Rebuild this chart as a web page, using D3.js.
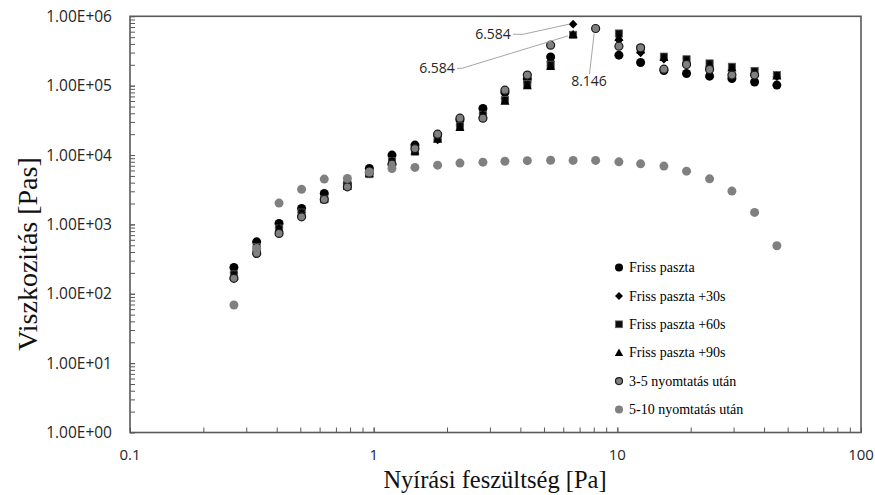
<!DOCTYPE html>
<html>
<head>
<meta charset="utf-8">
<script src="https://cdn.jsdelivr.net/npm/d3@7"></script>
<style>
  html, body { margin: 0; padding: 0; background: #fff; }
  svg { display: block; }
</style>
</head>
<body>
<svg id="chart" width="875" height="495"></svg>
<script>
// Shear stress values [Pa] shared by every measurement series
const stress = [0.267, 0.331, 0.409, 0.506, 0.627, 0.780, 0.960, 1.189, 1.477, 1.830,
                2.260, 2.808, 3.457, 4.272, 5.324, 6.584, 8.146, 10.15, 12.46, 15.53,
                19.23, 23.91, 29.53, 36.59, 45.16];

// Viscosity [Pas] per series (null = no reading at that stress)
const friss   = [240, 561, 1033, 1700, 2800, 3900, 6400, 9970, 13900, 19500,
                 32000, 47000, 80000, 125000, 260000, null, null, 275000, 216000, 165000,
                 150000, 137000, 127000, 113000, 102000];
const friss30 = [200, 480, 900, 1500, 2450, 3700, 6000, 8500, 11500, 16500,
                 27000, 40000, 65000, 110000, 225000, 770000, null, 453000, 297000, 240000,
                 215000, 190000, 170000, 150000, 135000];
const friss60 = [190, 470, 870, 1480, 2300, 3600, 5300, 8200, 11200, 17500,
                 26000, 38000, 62000, 105000, 200000, 540000, null, 565000, 340000, 262000,
                 240000, 209000, 187000, 163000, 142000];
const friss90 = [180, 460, 880, 1450, 2350, 3550, 5500, 8300, 11500, 17000,
                 25000, 39000, 60000, 100000, 190000, 550000, null, 500000, 330000, 255000,
                 225000, 200000, 180000, 155000, 138000];
const nyomt35 = [167, 382, 741, 1288, 2290, 3480, 5540, 7390, 12400, 20000,
                 34000, 34000, 86000, 142000, 384000, null, 667000, 371000, 351000, 173000,
                 202000, 171000, 142000, 142000, null];
const nyomt510 = [69, 450, 2030, 3200, 4500, 4600, 5700, 6400, 6630, 7150,
                  7650, 7900, 8140, 8300, 8400, 8360, 8360, 7980, 7470, 6920,
                  5860, 4540, 3020, 1490, 492];

const seriesNames = ["Friss paszta", "Friss paszta +30s", "Friss paszta +60s",
                     "Friss paszta +90s", "3-5 nyomtatás után", "5-10 nyomtatás után"];
const seriesValues = [friss, friss30, friss60, friss90, nyomt35, nyomt510];
const seriesShapes = ["circle", "diamond", "square", "triangle", "ringed", "dot"];

const xTickValues = [0.1, 1, 10, 100];
const xTickLabels = ["0.1", "1", "10", "100"];
const yTickValues = [1, 10, 100, 1000, 10000, 100000, 1000000];
const yTickLabels = ["1.00E+00", "1.00E+01", "1.00E+02", "1.00E+03", "1.00E+04", "1.00E+05", "1.00E+06"];

// Peak annotations: series index, stress value, label text
const peakNotes = [
  { s: 1, x: 6.584, text: "6.584" },
  { s: 2, x: 6.584, text: "6.584" },
  { s: 4, x: 8.146, text: "8.146" }
];

const xAxisTitle = "Nyírási feszültség [Pa]";
const yAxisTitle = "Viszkozitás [Pas]";

// ---------------------------------------------------------------
const svg = d3.select("#chart");
const M = { left: 130, right: 861, top: 16.3, bottom: 432.5 };
const axisColor = "#595959";
const sansFont = "'Open Sans', 'Liberation Sans', sans-serif";
const serifFont = "'Liberation Serif', 'Times New Roman', serif";

const x = d3.scaleLog().domain([0.1, 100]).range([M.left, M.right]);
const y = d3.scaleLog().domain([1, 1e6]).range([M.bottom, M.top]);

// Minor + major log ticks, drawn inward
const xMinor = [];
for (let d = 0.1; d < 100; d *= 10) for (let k = 1; k <= 10; k++) xMinor.push(+(d * k).toPrecision(3));
const yMinor = [];
for (let d = 1; d < 1e6; d *= 10) for (let k = 1; k <= 10; k++) yMinor.push(d * k);

const xAxis = d3.axisBottom(x).tickValues(xMinor).tickSize(-5).tickFormat("");
const yAxis = d3.axisLeft(y).tickValues(yMinor).tickSize(-5).tickFormat("");

const gx = svg.append("g").attr("transform", `translate(0,${M.bottom})`).call(xAxis);
const gy = svg.append("g").attr("transform", `translate(${M.left},0)`).call(yAxis);
[gx, gy].forEach(g => {
  g.select(".domain").remove();
  g.selectAll(".tick line").attr("stroke", axisColor).attr("stroke-width", 1);
});

// Plot frame
svg.append("rect")
  .attr("x", M.left).attr("y", M.top)
  .attr("width", M.right - M.left).attr("height", M.bottom - M.top)
  .attr("fill", "none").attr("stroke", axisColor).attr("stroke-width", 1.6);

// Tick labels
svg.append("g").selectAll("text").data(xTickValues).join("text")
  .attr("x", d => x(d)).attr("y", 460)
  .attr("text-anchor", "middle")
  .attr("font-family", sansFont).attr("font-size", 15).attr("fill", "#262626")
  .text((d, i) => xTickLabels[i]);

svg.append("g").selectAll("text").data(yTickValues).join("text")
  .attr("x", 112).attr("y", d => y(d)).attr("dy", "0.36em")
  .attr("text-anchor", "end")
  .attr("font-family", sansFont).attr("font-size", 15.5).attr("fill", "#262626")
  .text((d, i) => yTickLabels[i]);

// Axis titles
svg.append("text")
  .attr("x", 495).attr("y", 488)
  .attr("text-anchor", "middle")
  .attr("font-family", serifFont).attr("font-size", 24.5).attr("fill", "#111")
  .text(xAxisTitle);

svg.append("text")
  .attr("transform", "translate(37,254) rotate(-90)")
  .attr("text-anchor", "middle")
  .attr("font-family", serifFont).attr("font-size", 28).attr("fill", "#111")
  .text(yAxisTitle);

// Marker drawing
function drawMarker(g, shape, cx, cy, legend) {
  const r = legend ? 4 : 4.5;
  if (shape === "circle") {
    g.append("circle").attr("cx", cx).attr("cy", cy).attr("r", r).attr("fill", "#000");
  } else if (shape === "diamond") {
    const s = legend ? 4 : 4.3;
    g.append("path").attr("d", `M${cx},${cy - s}L${cx + s},${cy}L${cx},${cy + s}L${cx - s},${cy}Z`).attr("fill", "#000");
  } else if (shape === "square") {
    const s = legend ? 3.4 : 3.6;
    g.append("rect").attr("x", cx - s).attr("y", cy - s).attr("width", 2 * s).attr("height", 2 * s)
      .attr("fill", "#0d0d0d").attr("stroke", "#595959").attr("stroke-width", 0.8);
  } else if (shape === "triangle") {
    const s = legend ? 4.2 : 4.5;
    g.append("path").attr("d", `M${cx},${cy - s}L${cx + s},${cy + s * 0.8}L${cx - s},${cy + s * 0.8}Z`).attr("fill", "#000");
  } else if (shape === "ringed") {
    g.append("circle").attr("cx", cx).attr("cy", cy).attr("r", r - 0.5)
      .attr("fill", "#808080").attr("stroke", "#1a1a1a").attr("stroke-width", 1.2);
  } else {
    g.append("circle").attr("cx", cx).attr("cy", cy).attr("r", r).attr("fill", "#808080");
  }
}

const marks = svg.append("g");
seriesValues.forEach((vals, si) => {
  const g = marks.append("g").attr("class", "series-" + si);
  vals.forEach((v, i) => {
    if (v == null) return;
    drawMarker(g, seriesShapes[si], x(stress[i]), y(v), false);
  });
});

// Peak labels with leader lines
const notePos = [
  { lx: 493, ly: 34, from: [513, 34.3], bend: [523, 34.3], toDx: -4, toDy: 0 },
  { lx: 437, ly: 68, from: [457, 68.3], bend: [462, 68.3], toDx: -5, toDy: 1 },
  { lx: 589, ly: 81, from: [589.5, 74], bend: null, toDx: -1.5, toDy: 5 }
];
peakNotes.forEach((n, k) => {
  const p = notePos[k];
  const idx = stress.indexOf(n.x);
  const px = x(n.x), py = y(seriesValues[n.s][idx]);
  const pts = [p.from];
  if (p.bend) pts.push(p.bend);
  pts.push([px + p.toDx, py + p.toDy]);
  svg.append("path").attr("d", d3.line()(pts))
    .attr("fill", "none").attr("stroke", "#a6a6a6").attr("stroke-width", 1);
  svg.append("text")
    .attr("x", p.lx).attr("y", p.ly).attr("dy", "0.36em")
    .attr("text-anchor", "middle")
    .attr("font-family", sansFont).attr("font-size", 14).attr("fill", "#262626")
    .text(n.text);
});

// Legend
const legend = svg.append("g");
seriesNames.forEach((name, i) => {
  const ly = 267.5 + i * 28.4;
  drawMarker(legend, seriesShapes[i], 619, ly, true);
  legend.append("text")
    .attr("x", 629).attr("y", ly).attr("dy", "0.33em")
    .attr("font-family", serifFont).attr("font-size", 14).attr("fill", "#000")
    .text(name);
});
</script>
</body>
</html>
